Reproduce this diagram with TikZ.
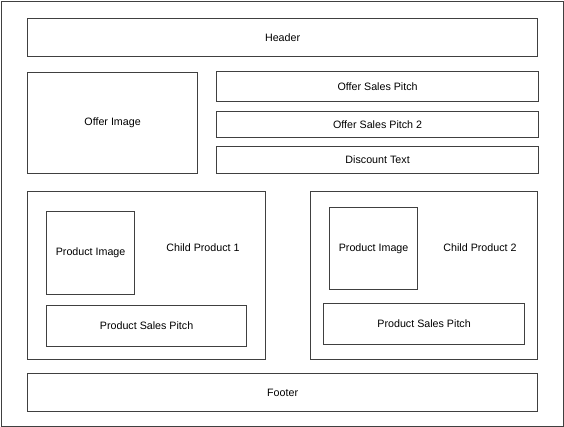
\documentclass[tikz,border=0pt]{standalone}
\usepackage{fontspec}
\setmainfont{Liberation Sans}
\usepackage{tikz}
\usetikzlibrary{positioning}
\definecolor{cLine}{RGB}{64,64,64}
\tikzset{
    block/.style={rectangle, draw=cLine, line width=1.2pt, inner sep=0pt, anchor=north west, text centered, align=center},
    label/.style={inner sep=0pt, text centered},
}

\begin{document}
\begin{tikzpicture}[x=1pt, y=-1pt, every node/.style={font=\fontsize{10.7}{12}\selectfont}]
        \useasboundingbox (0,0) rectangle (564,427);
        \node[block, minimum width=562pt, minimum height=425pt] (frame) at (1,1) {};
        % top part
        \node[block, minimum width=510pt, minimum height=38pt] (hdr) at (27,18) {Header};
        \node[block, minimum width=170pt, minimum height=101pt] (offimg) at (27,72) {Offer Image};
        \node[block, minimum width=322pt, minimum height=30pt] (pitch) at (216,71) {Offer Sales Pitch};
        \node[block, minimum width=322pt, minimum height=26pt] (pitchtwo) at (216,111) {Offer Sales Pitch 2};
        \node[block, minimum width=322pt, minimum height=27pt] (discount) at (216,146) {Discount Text};
        % child products
        \node[block, minimum width=238pt, minimum height=168pt] (childone) at (27,191) {};
        \node[block, minimum width=88pt, minimum height=83pt] (prodimgone) at (46,211) {Product Image};
        \node[label] (nameone) at (203,248) {Child Product 1};
        \node[block, minimum width=200pt, minimum height=41pt] (prodpitchone) at (46,305) {Product Sales Pitch};
        \node[block, minimum width=227pt, minimum height=168pt] (childtwo) at (310,191) {};
        \node[block, minimum width=88pt, minimum height=82pt] (prodimgtwo) at (329,207) {Product Image};
        \node[label] (nametwo) at (480,248) {Child Product 2};
        \node[block, minimum width=201pt, minimum height=41pt] (prodpitchtwo) at (323,303) {Product Sales Pitch};
        % bottom
        \node[block, minimum width=510pt, minimum height=38pt] (footer) at (27,373) {Footer};
    \end{tikzpicture}
\end{document}
